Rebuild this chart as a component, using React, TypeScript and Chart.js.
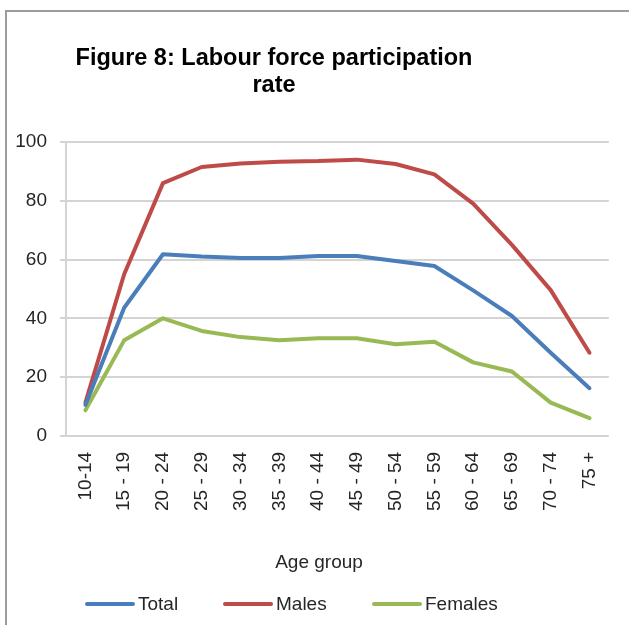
import React, { useEffect, useRef } from "react";
import { Chart, registerables } from "chart.js";

Chart.register(...registerables);

const categories = ["10-14", "15 - 19", "20 - 24", "25 - 29", "30 - 34", "35 - 39", "40 - 44", "45 - 49", "50 - 54", "55 - 59", "60 - 64", "65 - 69", "70 - 74", "75 +"];
const totalRates = [10.5, 43.6, 61.8, 61.0, 60.5, 60.5, 61.2, 61.2, 59.5, 57.8, 49.5, 40.8, 28.3, 16.2];
const maleRates = [11.3, 55.0, 86.0, 91.5, 92.7, 93.3, 93.5, 94.0, 92.5, 89.0, 79.0, 65.0, 49.6, 28.3];
const femaleRates = [8.7, 32.5, 40.0, 35.7, 33.6, 32.5, 33.2, 33.2, 31.2, 32.0, 25.0, 21.9, 11.3, 6.0];
const seriesNames = ["Total", "Males", "Females"];
const seriesColors = ["#4a7ebb", "#be4b48", "#98b954"];
const titleLines = ["Figure 8: Labour force participation", "rate"];
const xAxisTitle = "Age group";

const FONT = '"Liberation Sans", Arial, sans-serif';

const textPlugin = {
  id: "customText",
  afterDraw(chart: any) {
    const ctx = chart.ctx;
    ctx.save();
    ctx.fillStyle = "#000";
    ctx.font = `bold 23.5px ${FONT}`;
    ctx.textAlign = "center";
    ctx.textBaseline = "alphabetic";
    ctx.fillText(titleLines[0], 274, 65);
    ctx.fillText(titleLines[1], 274, 92);

    ctx.fillStyle = "#262626";
    ctx.font = `19px ${FONT}`;
    ctx.fillText(xAxisTitle, 319, 568);

    const items = chart.data.datasets;
    const starts = [85, 223, 372];
    ctx.textAlign = "left";
    items.forEach((ds: any, i: number) => {
      const x0 = starts[i];
      ctx.strokeStyle = ds.borderColor;
      ctx.lineWidth = 4;
      ctx.lineCap = "round";
      ctx.beginPath();
      ctx.moveTo(x0 + 2, 604);
      ctx.lineTo(x0 + 48, 604);
      ctx.stroke();
      ctx.fillStyle = "#262626";
      ctx.fillText(ds.label, x0 + 53, 610);
    });
    ctx.restore();
  },
};

export default function App() {
  const ref = useRef<HTMLCanvasElement>(null);
  useEffect(() => {
    if (!ref.current) return;
    const chart = new Chart(ref.current, {
      type: "line",
      data: {
        labels: categories,
        datasets: [totalRates, maleRates, femaleRates].map((d, i) => ({
          label: seriesNames[i],
          data: d,
          borderColor: seriesColors[i],
          backgroundColor: seriesColors[i],
          borderWidth: 4,
          pointRadius: 0,
          tension: 0,
          borderJoinStyle: "round" as const,
          borderCapStyle: "round" as const,
        })),
      },
      options: {
        responsive: false,
        animation: false,
        layout: { padding: { top: 142, bottom: 98, right: 20, left: 0 } },
        plugins: {
          legend: { display: false },
          title: { display: false },
          tooltip: { enabled: false },
        },
        scales: {
          x: {
            offset: true,
            grid: { display: false, drawTicks: false },
            border: { display: false },
            ticks: {
              minRotation: 90,
              maxRotation: 90,
              autoSkip: false,
              padding: 16,
              color: "#262626",
              font: { family: FONT, size: 19 },
            },
          },
          y: {
            min: 0,
            max: 100,
            afterFit: (s: any) => {
              s.width = 66;
            },
            ticks: {
              stepSize: 20,
              padding: 13,
              color: "#262626",
              font: { family: FONT, size: 19 },
            },
            grid: {
              color: "#d4d4d4",
              lineWidth: 2,
              drawTicks: true,
              tickLength: 6,
            },
            border: { display: true, color: "#d4d4d4", width: 2 },
          },
        },
      },
      plugins: [textPlugin],
    });
    return () => chart.destroy();
  }, []);

  return (
    <div style={{ position: "fixed", left: 0, top: 0, width: 629, height: 625, overflow: "hidden", background: "#fff" }}>
      <div style={{ position: "absolute", left: 5, top: 10, width: 700, height: 700, borderTop: "2px solid #9c9c9c", borderLeft: "2px solid #9c9c9c" }} />
      <canvas ref={ref} width={629} height={625} style={{ position: "absolute", left: 0, top: 0 }} />
    </div>
  );
}
